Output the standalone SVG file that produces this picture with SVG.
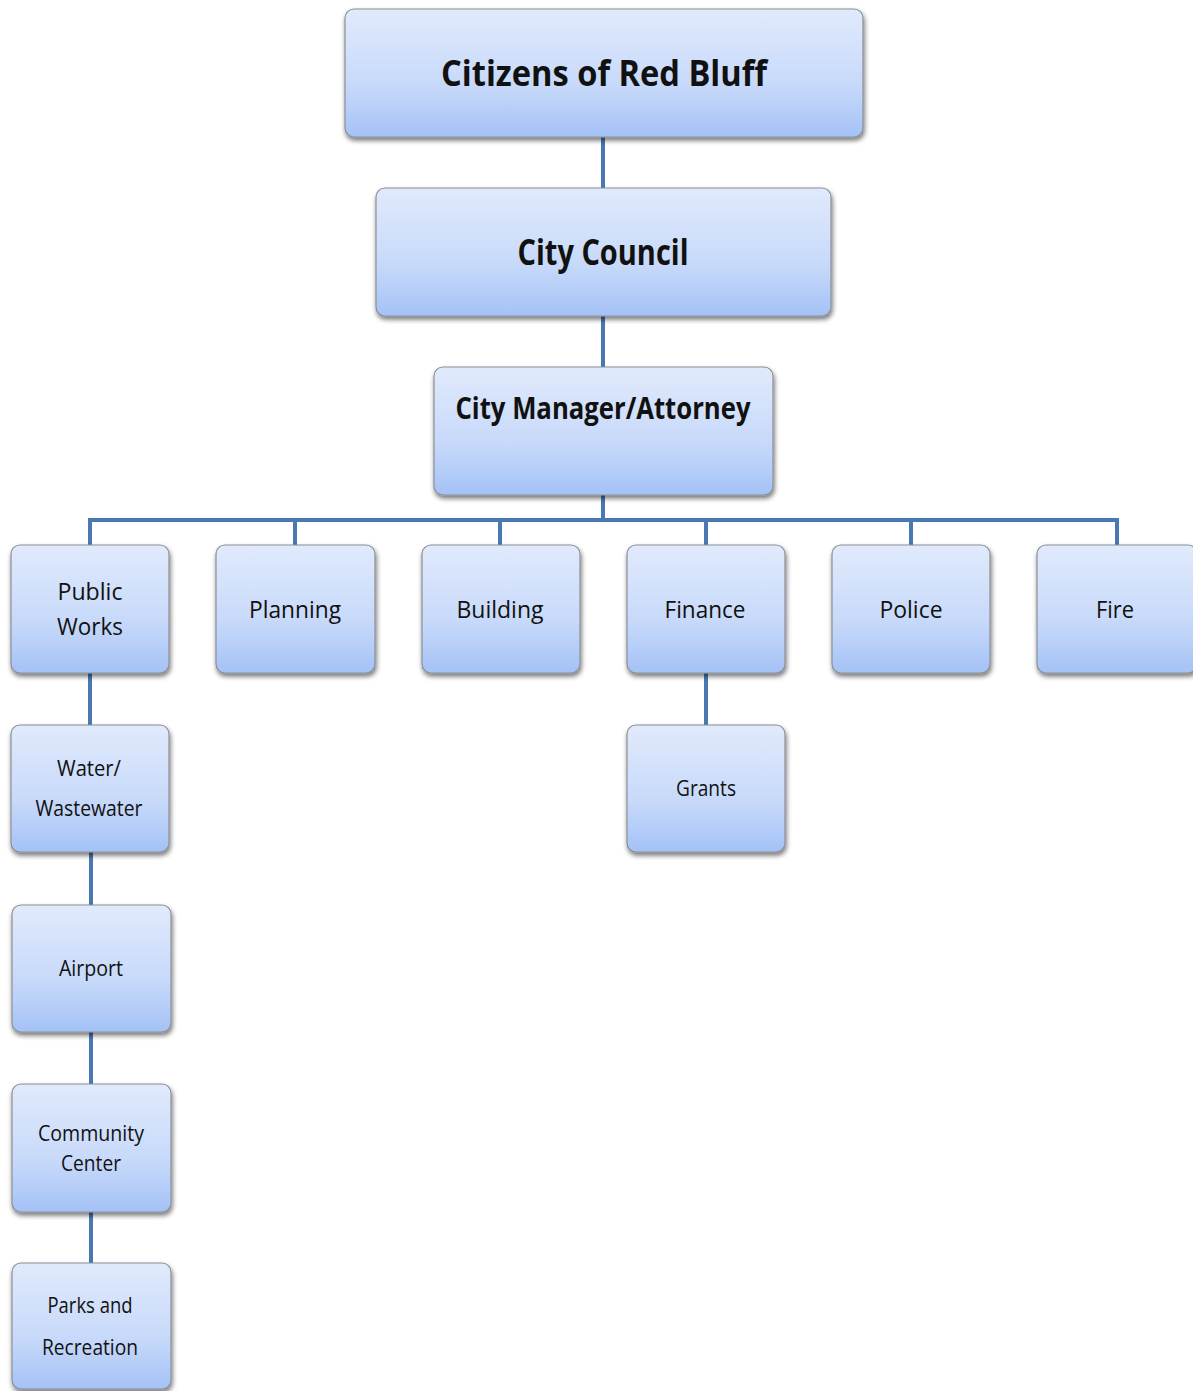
<svg xmlns="http://www.w3.org/2000/svg" width="1193" height="1391" viewBox="0 0 1193 1391">
<defs>
<linearGradient id="g" x1="0" y1="0" x2="0" y2="1">
<stop offset="0" stop-color="#e1eafc"/>
<stop offset="0.6" stop-color="#c7d9fa"/>
<stop offset="1" stop-color="#a4c2f6"/>
</linearGradient>
<filter id="sh" x="-10%" y="-10%" width="125%" height="130%">
<feGaussianBlur in="SourceAlpha" stdDeviation="2.5"/>
<feOffset dx="1" dy="3" result="b"/>
<feComponentTransfer><feFuncA type="linear" slope="0.55"/></feComponentTransfer>
<feMerge><feMergeNode/><feMergeNode in="SourceGraphic"/></feMerge>
</filter>
</defs>
<style>
.box{fill:url(#g);stroke:#8c8f96;stroke-width:1.2;filter:url(#sh)}
.t{font-family:"Open Sans","Noto Sans","Liberation Sans",sans-serif;fill:#111;text-anchor:middle}
.big{font-weight:bold;font-size:36px}
.mid{font-weight:bold;font-size:30px}
.sm{font-size:24px}
.xs{font-size:21px}
.c{stroke:#4a78b0;stroke-width:4;fill:none}
</style>
<rect width="1193" height="1391" fill="#fff"/>
<g id="connectors">
<line class="c" x1="603" y1="137" x2="603" y2="188"/>
<line class="c" x1="603" y1="316" x2="603" y2="367"/>
<line class="c" x1="603" y1="495" x2="603" y2="520"/>
<polyline class="c" points="90,545 90,520 1117,520 1117,545"/>
<line class="c" x1="295" y1="520" x2="295" y2="545"/>
<line class="c" x1="500" y1="520" x2="500" y2="545"/>
<line class="c" x1="706" y1="520" x2="706" y2="545"/>
<line class="c" x1="911" y1="520" x2="911" y2="545"/>
<line class="c" x1="90" y1="673" x2="90" y2="725"/>
<line class="c" x1="91" y1="852" x2="91" y2="905"/>
<line class="c" x1="91" y1="1032" x2="91" y2="1084"/>
<line class="c" x1="91" y1="1212" x2="91" y2="1263"/>
<line class="c" x1="706" y1="673" x2="706" y2="725"/>
</g>
<g id="citizens"><rect class="box" x="345" y="9" width="518" height="128" rx="9"/><text class="t big" x="604" y="86" textLength="326" lengthAdjust="spacingAndGlyphs">Citizens of Red Bluff</text></g>
<g id="council"><rect class="box" x="376" y="188" width="455" height="128" rx="9"/><text class="t big" x="603" y="265" textLength="171" lengthAdjust="spacingAndGlyphs">City Council</text></g>
<g id="manager"><rect class="box" x="434" y="367" width="339" height="128" rx="9"/><text class="t mid" x="603" y="419" textLength="295" lengthAdjust="spacingAndGlyphs">City Manager/Attorney</text></g>
<g id="publicworks"><rect class="box" x="11" y="545" width="158" height="128" rx="9"/><text class="t sm" x="90" y="600" textLength="65" lengthAdjust="spacingAndGlyphs">Public</text><text class="t sm" x="90" y="635" textLength="66" lengthAdjust="spacingAndGlyphs">Works</text></g>
<g id="planning"><rect class="box" x="216" y="545" width="159" height="128" rx="9"/><text class="t sm" x="295" y="618" textLength="92" lengthAdjust="spacingAndGlyphs">Planning</text></g>
<g id="building"><rect class="box" x="422" y="545" width="158" height="128" rx="9"/><text class="t sm" x="500" y="618" textLength="87" lengthAdjust="spacingAndGlyphs">Building</text></g>
<g id="finance"><rect class="box" x="627" y="545" width="158" height="128" rx="9"/><text class="t sm" x="705" y="618" textLength="81" lengthAdjust="spacingAndGlyphs">Finance</text></g>
<g id="police"><rect class="box" x="832" y="545" width="158" height="128" rx="9"/><text class="t sm" x="911" y="618" textLength="63" lengthAdjust="spacingAndGlyphs">Police</text></g>
<g id="fire"><rect class="box" x="1037" y="545" width="160" height="128" rx="9"/><text class="t sm" x="1115" y="618" textLength="38" lengthAdjust="spacingAndGlyphs">Fire</text></g>
<g id="water"><rect class="box" x="11" y="725" width="158" height="127" rx="9"/><text class="t xs" x="89" y="776" textLength="64" lengthAdjust="spacingAndGlyphs">Water/</text><text class="t xs" x="89" y="816" textLength="107" lengthAdjust="spacingAndGlyphs">Wastewater</text></g>
<g id="grants"><rect class="box" x="627" y="725" width="158" height="127" rx="9"/><text class="t xs" x="706" y="796" textLength="60" lengthAdjust="spacingAndGlyphs">Grants</text></g>
<g id="airport"><rect class="box" x="12" y="905" width="159" height="127" rx="9"/><text class="t xs" x="91" y="976" textLength="64" lengthAdjust="spacingAndGlyphs">Airport</text></g>
<g id="community"><rect class="box" x="12" y="1084" width="159" height="128" rx="9"/><text class="t xs" x="91" y="1141" textLength="106" lengthAdjust="spacingAndGlyphs">Community</text><text class="t xs" x="91" y="1171" textLength="60" lengthAdjust="spacingAndGlyphs">Center</text></g>
<g id="parks"><rect class="box" x="12" y="1263" width="159" height="126" rx="9"/><text class="t xs" x="90" y="1313" textLength="85" lengthAdjust="spacingAndGlyphs">Parks and</text><text class="t xs" x="90" y="1355" textLength="96" lengthAdjust="spacingAndGlyphs">Recreation</text></g>
</svg>
